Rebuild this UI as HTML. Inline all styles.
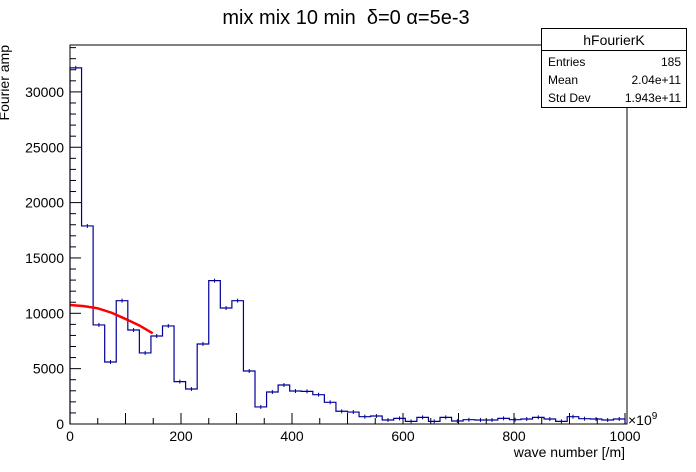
<!DOCTYPE html>
<html><head><meta charset="utf-8"><style>
body{margin:0;background:#fff;}
svg{display:block;font-family:"Liberation Sans",sans-serif;}
</style></head><body>
<svg id="c" width="696" height="472">
<rect x="0" y="0" width="696" height="472" fill="#fff"/>
<text x="346" y="24" font-size="20" text-anchor="middle" xml:space="preserve">mix mix 10 min  δ=0 α=5e-3</text>
<text transform="translate(9,45) rotate(-90)" font-size="14" text-anchor="end">Fourier amp</text>
<text x="625" y="457" font-size="14" text-anchor="end">wave number [/m]</text>
<text x="628" y="425" font-size="14">×10<tspan font-size="10" dy="-6">9</tspan></text>
<g id="axes"></g>
<g id="marks"></g>
<rect x="70" y="45" width="557" height="379" fill="none" stroke="#000" stroke-width="1"/>
<g>
<rect x="541.5" y="28.5" width="145" height="79" fill="#fff" stroke="#000"/>
<line x1="541.5" y1="50.5" x2="686.5" y2="50.5" stroke="#000"/>
<text x="614" y="45" font-size="14" text-anchor="middle">hFourierK</text>
<text x="548" y="66" font-size="12">Entries</text>
<text x="681" y="66" font-size="12" text-anchor="end">185</text>
<text x="548" y="84" font-size="12">Mean</text>
<text x="681" y="84" font-size="12" text-anchor="end">2.04e+11</text>
<text x="548" y="102" font-size="12">Std Dev</text>
<text x="681" y="102" font-size="12" text-anchor="end">1.943e+11</text>
</g>
</svg>
<script>
const binValues = [32170,17890,8950,5600,11140,8490,6420,7950,8860,3830,3160,7230,12950,10480,11140,4790,1540,2890,3520,2980,2950,2650,1960,1150,1080,660,720,360,510,240,600,240,600,270,390,360,360,510,390,450,600,450,240,660,480,450,360,450];
const xMin = 0, xMax = 1000;
const xTickLabels = [0,200,400,600,800,1000];
const yTickLabels = [0,5000,10000,15000,20000,25000,30000];
const fitX = [0,25,50,75,100,125,149];
const fitY = [10750,10650,10450,10050,9490,8900,8190];
const NS='http://www.w3.org/2000/svg';
function X(v){return 70+(v-xMin)/(xMax-xMin)*555;}
function Y(v){return 424-v/10000*110.7;}
function el(t,a,p){const e=document.createElementNS(NS,t);for(const k in a)e.setAttribute(k,a[k]);p.appendChild(e);return e;}
const ax=document.getElementById('axes'), mk=document.getElementById('marks');
for(let v=0;v<=34000;v+=1000){
  const major=v%5000===0;
  const t=el('line',{x1:70,x2:70+(major?11:6),y1:Y(v),y2:Y(v),stroke:'#000'},ax);
  
  
}
yTickLabels.forEach(v=>{
  const t=el('text',{x:64,y:Y(v)+5,'font-size':14,'text-anchor':'end'},ax);
  t.textContent=v;
  
  
});
for(let v=0;v<=1000;v+=50){
  const major=v%100===0;
  const t=el('line',{x1:X(v),x2:X(v),y1:424,y2:424-(major?11:6),stroke:'#000'},ax);
  
  
}
xTickLabels.forEach(v=>{
  const t=el('text',{x:X(v),y:441,'font-size':14,'text-anchor':'middle'},ax);
  t.textContent=v;
  
  
});
const bw=(xMax-xMin)/binValues.length;
let d='M'+X(0)+','+Y(0);
binValues.forEach((v,i)=>{d+=' L'+X(i*bw)+','+Y(v)+' L'+X((i+1)*bw)+','+Y(v);});
d+=' L'+X(xMax)+','+Y(0);
const h=el('path',{d:d,fill:'none',stroke:'#000099','stroke-width':1.2},mk);


binValues.forEach((v,i)=>{
  const c=X((i+0.5)*bw);
  const e=el('line',{x1:c,x2:c,y1:Y(v)-2,y2:Y(v)+2,stroke:'#000099'},mk);
  
  
});
const fp=el('polyline',{points:fitX.map((x,i)=>X(x)+','+Y(fitY[i])).join(' '),fill:'none',stroke:'#ff0000','stroke-width':2.5},mk);


</script>
</body></html>
